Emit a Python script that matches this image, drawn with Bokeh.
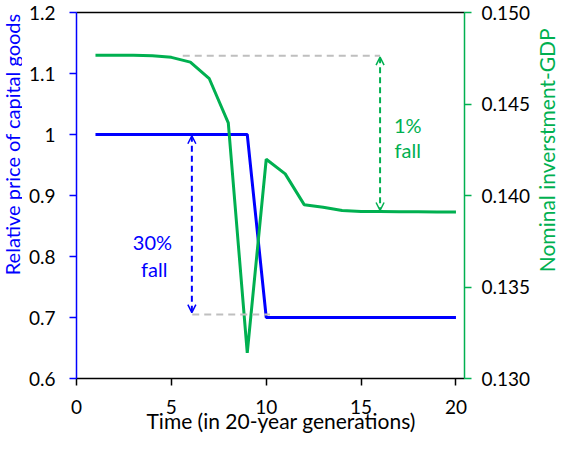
import math
from bokeh.plotting import figure
from bokeh.layouts import row
from bokeh.models import (Range1d, LinearAxis, FixedTicker, Label, Arrow, OpenHead,
                          NumeralTickFormatter, Title)
from bokeh.embed import file_html
from bokeh.resources import INLINE

# ---- data ----
generation = [1, 2, 3, 4, 5, 6, 7, 8, 9, 10, 11, 12, 13, 14, 15, 16, 17, 18, 19, 20]
relative_price = [1.0, 1.0, 1.0, 1.0, 1.0, 1.0, 1.0, 1.0, 1.0,
                  0.7, 0.7, 0.7, 0.7, 0.7, 0.7, 0.7, 0.7, 0.7, 0.7, 0.7]
investment_gdp = [0.14767, 0.14767, 0.14766, 0.14764, 0.14755, 0.14729, 0.14638, 0.14397,
                  0.13140, 0.14198, 0.14118, 0.13950, 0.13936, 0.13918, 0.13913, 0.13912,
                  0.13911, 0.13911, 0.13910, 0.13910]
left_ticks = [0.6, 0.7, 0.8, 0.9, 1.0, 1.1, 1.2]
right_ticks = [0.130, 0.135, 0.140, 0.145, 0.150]
x_ticks = [0, 5, 10, 15, 20]

# annotation values
price_fall_x = 6.08
price_fall_top = 0.998
price_fall_bottom = 0.708
price_guide_x = [6.1, 10.2]
price_guide_y = [0.705, 0.705]
inv_fall_x = 16.0
inv_fall_top = 0.14756
inv_fall_bottom = 0.13918
inv_guide_x = [5.6, 16.0]
inv_guide_y = [0.14764, 0.14764]

BLUE = "#0000FF"
GREEN = "#00B050"
GRAY = "#BFBFBF"
FONT = "Lato"

H = 433
LW, RW = 22, 24
W = 558 - LW - RW

p = figure(width=W, height=H, output_backend="svg", toolbar_location=None,
           x_range=Range1d(0, 20.45), y_range=Range1d(0.6, 1.2),
           min_border_left=76 - LW, min_border_right=70, min_border_top=12, min_border_bottom=55)
p.extra_y_ranges = {"r": Range1d(0.130, 0.150)}
p.grid.visible = False
p.outline_line_color = None
p.background_fill_color = "white"
p.border_fill_color = "white"

# bottom axis
xa = p.xaxis[0]
xa.ticker = FixedTicker(ticks=x_ticks)
xa.axis_line_color = "black"
xa.axis_line_width = 1.5
xa.major_tick_line_color = "black"
xa.major_tick_line_width = 1.5
xa.major_tick_out = 7
xa.major_tick_in = 0
xa.minor_tick_line_color = None
xa.major_label_standoff = 14
xa.major_label_text_font = FONT
xa.major_label_text_font_size = "19px"
xa.major_label_text_color = "black"

# left axis
ya = p.yaxis[0]
ya.ticker = FixedTicker(ticks=left_ticks)
ya.major_label_overrides = {1.0: "1", 1: "1"}
ya.axis_line_color = BLUE
ya.axis_line_width = 1.5
ya.major_tick_line_color = BLUE
ya.major_tick_line_width = 1.5
ya.major_tick_out = 7
ya.major_tick_in = 0
ya.minor_tick_line_color = None
ya.major_label_standoff = 14
ya.major_label_text_font = FONT
ya.major_label_text_font_size = "19px"
ya.major_label_text_color = "black"

# right axis
ra = LinearAxis(y_range_name="r", ticker=FixedTicker(ticks=right_ticks),
                formatter=NumeralTickFormatter(format="0.000"))
ra.axis_line_color = GREEN
ra.axis_line_width = 1.5
ra.major_tick_line_color = GREEN
ra.major_tick_line_width = 1.5
ra.major_tick_out = 7
ra.major_tick_in = 0
ra.minor_tick_line_color = None
ra.major_label_standoff = 10
ra.major_label_text_font = FONT
ra.major_label_text_font_size = "19px"
ra.major_label_text_color = "black"
p.add_layout(ra, "right")

# top border
ta = LinearAxis(ticker=FixedTicker(ticks=[]))
ta.axis_line_color = "black"
ta.axis_line_width = 1.5
ta.major_tick_line_color = None
ta.minor_tick_line_color = None
ta.major_label_text_font_size = "0px"
p.add_layout(ta, "above")

# x axis title (shifted left like the original)
p.add_layout(Title(text="Time (in 20-year generations)", align="left", offset=70,
                   vertical_align="top", standoff=-18, text_font=FONT,
                   text_font_size="21px", text_font_style="normal", text_color="black"), "below")

# series
p.line(generation, relative_price, line_color=BLUE, line_width=3)
p.line(generation, investment_gdp, line_color=GREEN, line_width=3, y_range_name="r")

# guides
p.line(inv_guide_x, inv_guide_y, line_color=GRAY, line_width=2, line_dash="7 5", y_range_name="r")
p.line(price_guide_x, price_guide_y, line_color=GRAY, line_width=2, line_dash="7 5")

# arrows
p.add_layout(Arrow(x_start=price_fall_x, y_start=price_fall_top, x_end=price_fall_x, y_end=price_fall_bottom,
                   line_color=BLUE, line_width=2, line_dash="6 4",
                   start=OpenHead(size=8, line_color=BLUE, line_width=1.5),
                   end=OpenHead(size=8, line_color=BLUE, line_width=1.5)))
p.add_layout(Arrow(x_start=inv_fall_x, y_start=inv_fall_top, x_end=inv_fall_x, y_end=inv_fall_bottom,
                   y_range_name="r",
                   line_color=GREEN, line_width=2, line_dash="6 4",
                   start=OpenHead(size=8, line_color=GREEN, line_width=1.5),
                   end=OpenHead(size=8, line_color=GREEN, line_width=1.5)))

def lab(fig, x, y, t, color, size="20px", angle=0.0):
    fig.add_layout(Label(x=x, y=y, text=t, text_color=color, text_font=FONT, text_font_size=size,
                         text_align="center", text_baseline="middle", angle=angle))

lab(p, 4.0, 0.824, "30%", BLUE)
lab(p, 4.1, 0.780, "fall", BLUE)
lab(p, 17.46, 1.0156, "1%", GREEN)
lab(p, 17.46, 0.974, "fall", GREEN)

# side strips holding the rotated axis titles
def strip(w):
    f = figure(width=w, height=H, output_backend="svg", toolbar_location=None,
               x_range=Range1d(0, w), y_range=Range1d(0, H), min_border=0)
    f.axis.visible = False
    f.grid.visible = False
    f.outline_line_color = None
    f.border_fill_color = "white"
    f.background_fill_color = "white"
    return f

pl = strip(LW)
lab(pl, 11, H - 156, "Relative price of capital goods", BLUE, size="20px", angle=math.pi / 2)
pr = strip(RW)
lab(pr, 12, H - 163, "Nominal inverstment-GDP", GREEN, size="21px", angle=math.pi / 2)

layout = row(pl, p, pr, spacing=0)
open("out.html", "w").write(file_html(layout, INLINE))
